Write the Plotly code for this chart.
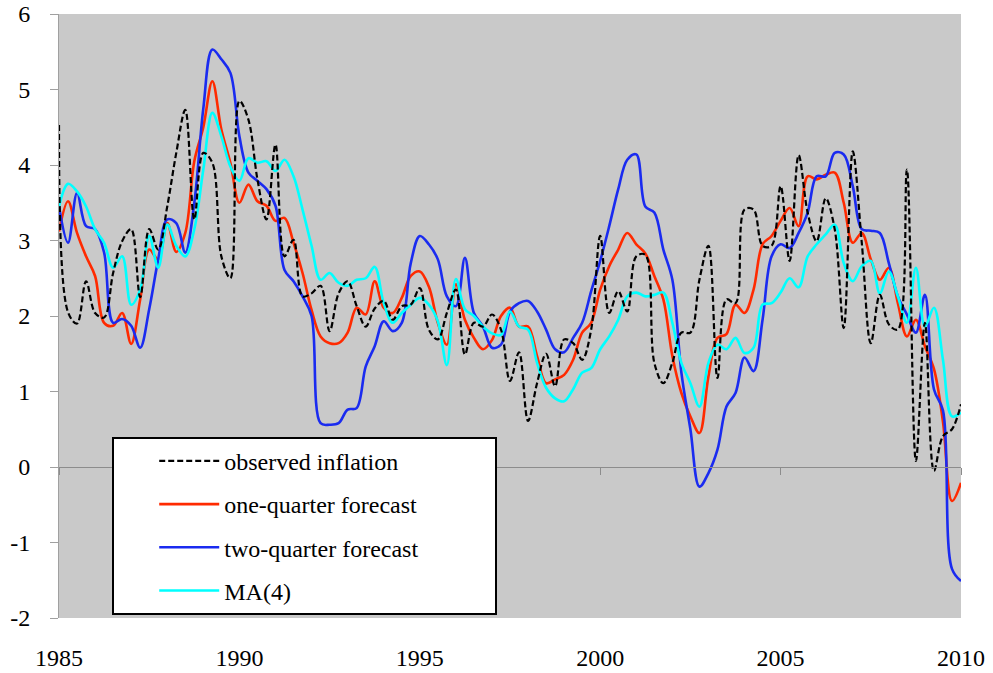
import plotly.graph_objects as go

# Quarterly observations, 1985Q1 .. 2010Q1
years = [1985 + q / 4 for q in range(101)]

observed = [4.53, 2.05, 1.90, 2.46, 2.04, 1.98, 2.57, 2.99, 3.15, 2.25,
            3.15, 2.88, 3.45, 4.16, 4.73, 3.28, 4.16, 4.03, 2.79, 2.50,
            4.85, 4.60, 3.81, 3.28, 4.27, 2.79, 3.01, 2.26, 2.30, 2.40,
            1.80, 2.30, 2.46, 2.13, 1.86, 2.10, 2.20, 1.95, 2.13, 2.15,
            2.37, 1.82, 1.69, 2.04, 2.35, 1.49, 1.91, 1.86, 2.02, 1.82,
            1.14, 1.52, 0.61, 1.11, 1.50, 1.07, 1.69, 1.64, 1.42, 1.82,
            3.06, 2.04, 2.33, 2.06, 2.79, 2.81, 1.38, 1.11, 1.38, 1.78,
            1.78, 2.48, 2.93, 1.18, 2.22, 2.17, 3.41, 3.41, 2.93, 2.93,
            3.72, 2.73, 4.13, 3.37, 2.99, 3.56, 3.15, 1.84, 4.18, 2.97,
            1.64, 2.28, 1.89, 1.82, 3.94, 0.08, 1.91, -0.05, 0.41, 0.50,
            0.83]

one_quarter = [3.12, 3.52, 3.10, 2.79, 2.53, 1.91, 1.87, 2.04, 1.63, 2.22,
               2.88, 2.75, 3.23, 2.85, 3.10, 4.05, 4.50, 5.11, 4.47, 4.03,
               3.50, 3.74, 3.52, 3.46, 3.26, 3.30, 2.97, 2.57, 2.08, 1.73,
               1.64, 1.64, 1.78, 2.11, 2.02, 2.46, 2.11, 2.04, 2.24, 2.53,
               2.59, 2.39, 1.91, 1.62, 2.42, 1.95, 1.71, 1.56, 1.68, 2.00,
               2.11, 1.86, 1.86, 1.47, 1.11, 1.16, 1.22, 1.42, 1.78, 1.91,
               2.35, 2.66, 2.88, 3.10, 2.95, 2.83, 2.53, 2.22, 1.47, 0.98,
               0.67, 0.45, 1.20, 1.71, 1.76, 2.15, 2.04, 2.35, 2.95, 3.06,
               3.26, 3.43, 3.19, 3.85, 3.81, 3.87, 3.90, 3.50, 2.97, 3.10,
               2.75, 2.48, 2.64, 2.17, 1.73, 1.95, 1.60, 1.30, 0.60, -0.45,
               -0.21]

two_quarter = [3.45, 2.97, 3.63, 3.19, 3.15, 2.84, 1.91, 1.96, 1.87, 1.58,
               2.09, 2.75, 3.28, 3.23, 2.84, 3.50, 4.75, 5.53, 5.40, 5.22,
               4.38, 3.90, 3.79, 3.68, 3.46, 2.61, 2.46, 2.26, 2.00, 0.58,
               0.56, 0.58, 0.76, 0.78, 1.33, 1.60, 1.93, 1.80, 1.91, 2.70,
               3.06, 2.95, 2.75, 2.26, 2.13, 2.77, 2.04, 1.86, 1.58, 1.62,
               2.06, 2.17, 2.20, 2.06, 1.82, 1.56, 1.52, 1.71, 1.91, 2.33,
               2.73, 3.19, 3.68, 4.07, 4.14, 3.45, 3.37, 2.88, 2.48, 1.25,
               0.50, -0.26, -0.08, 0.23, 0.80, 0.98, 1.45, 1.27, 1.95, 2.79,
               2.95, 2.90, 3.10, 3.37, 3.85, 3.85, 4.16, 4.14, 3.72, 3.15,
               3.13, 3.10, 2.70, 2.26, 2.02, 1.78, 2.28, 1.03, 0.75, -1.35,
               -1.51]

ma4 = [3.45, 3.75, 3.65, 3.45, 3.15, 2.97, 2.64, 2.79, 2.15, 2.35,
       3.06, 2.64, 3.21, 2.93, 2.79, 3.15, 3.94, 4.69, 4.38, 3.98,
       3.79, 4.09, 4.03, 4.05, 3.92, 4.07, 3.85, 3.41, 2.93, 2.48,
       2.57, 2.44, 2.40, 2.48, 2.50, 2.65, 2.17, 1.91, 2.04, 2.15,
       2.24, 2.15, 1.93, 1.35, 2.49, 2.09, 2.00, 1.86, 1.77, 1.75,
       2.06, 1.86, 1.82, 1.38, 1.05, 0.91, 0.87, 1.03, 1.25, 1.31,
       1.56, 1.73, 1.95, 2.26, 2.31, 2.26, 2.28, 2.31, 1.91, 1.38,
       1.11, 0.80, 1.38, 1.62, 1.56, 1.71, 1.51, 1.58, 2.15, 2.17,
       2.31, 2.50, 2.38, 2.79, 2.95, 3.08, 3.21, 2.70, 2.46, 2.66,
       2.73, 2.30, 2.59, 2.26, 1.91, 2.64, 1.86, 2.11, 1.42, 0.67,
       0.72]

series_names = ["observed inflation", "one-quarter forecast",
                "two-quarter forecast", "MA(4)"]

x_tickvals = [1985, 1990, 1995, 2000, 2005, 2010]
x_ticktext = ["1985", "1990", "1995", "2000", "2005", "2010"]
y_tickvals = [-2, -1, 0, 1, 2, 3, 4, 5, 6]
y_ticktext = ["-2", "-1", "0", "1", "2", "3", "4", "5", "6"]

FONT = "Liberation Serif, Times New Roman, serif"
PAD = "\u00a0" * 12

styles = [
    dict(color="#000000", width=2.2, dash="6px,3px"),
    dict(color="#FF2A00", width=2.6),
    dict(color="#1A2BF0", width=2.6),
    dict(color="#00FFFF", width=2.6),
]
# the observed series is drawn on the overlaid axis that carries the zero line
axes = ["x2", "x", "x", "x"]
data = [observed, one_quarter, two_quarter, ma4]

fig = go.Figure()
for name, vals, st, ax in zip(series_names, data, styles, axes):
    label = name + PAD if name == "two-quarter forecast" else name
    fig.add_trace(go.Scatter(
        x=years, y=vals, mode="lines", name=label, legendgroup=name,
        xaxis=ax, yaxis="y",
        line=dict(shape="spline", smoothing=1.0, **st),
        hoverinfo="skip",
    ))

fig.update_layout(
    width=993, height=673,
    margin=dict(l=59, r=32, t=14, b=55, autoexpand=False),
    paper_bgcolor="white",
    plot_bgcolor="#C9C9C9",
    font=dict(family=FONT, size=24, color="black"),
    showlegend=True,
    legend=dict(
        x=0.059, y=0.30, xanchor="left", yanchor="top",
        bgcolor="white", bordercolor="black", borderwidth=2,
        font=dict(family=FONT, size=24, color="black"),
        traceorder="grouped", tracegroupgap=9,
        indentation=40, itemwidth=60,
    ),
    xaxis=dict(
        range=[1985, 2010], tickvals=x_tickvals, ticktext=x_ticktext,
        showgrid=False, zeroline=False, showline=False, ticks="",
        automargin=False,
        ticklabelstandoff=23, tickfont=dict(family=FONT, size=24),
    ),
    xaxis2=dict(
        range=[1985, 2010], tickvals=x_tickvals, overlaying="x",
        anchor="free", position=0.25, side="bottom",
        showline=True, linecolor="#8C8C8C", linewidth=1,
        ticks="outside", ticklen=7, tickcolor="#8C8C8C",
        showticklabels=False, showgrid=False, zeroline=False,
        automargin=False,
    ),
    yaxis=dict(
        range=[-2, 6], tickvals=y_tickvals, ticktext=y_ticktext,
        showgrid=False, zeroline=False, automargin=False,
        showline=True, linecolor="#A0A0A0", linewidth=1,
        ticks="outside", ticklen=8, tickcolor="#A0A0A0",
        ticklabelstandoff=15, tickfont=dict(family=FONT, size=24),
    ),
)

fig.write_html("out.html", include_plotlyjs=True, full_html=True,
               config={"displayModeBar": False},
               post_script="document.body.style.margin='0';")
